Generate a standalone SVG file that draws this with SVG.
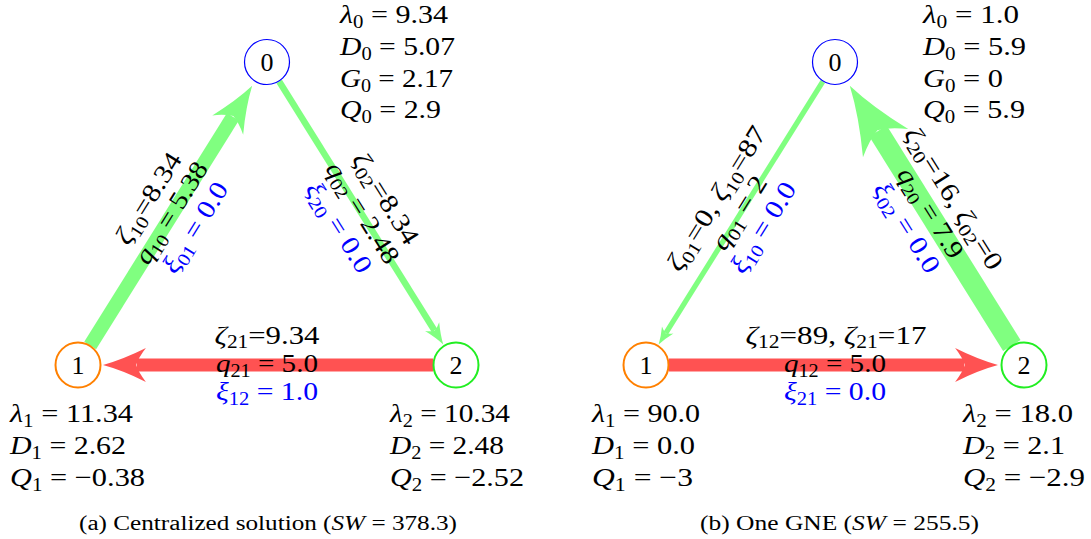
<svg xmlns="http://www.w3.org/2000/svg" width="1091" height="539" viewBox="0 0 1091 539">
<style>
.t{font-family:"Liberation Serif","Times New Roman",serif;font-size:26px;fill:#000}
.i{font-style:italic}
.s{font-size:18px}
.b{fill:#0000ff}
.cap{font-size:20px}
.g{stroke:#80ff80;fill:none}
.r{stroke:#ff5252;fill:none}
.n{fill:#fff}
</style>
<defs>
<marker id="ag" viewBox="-3.5 -1.5 3.6 3" refX="-2.6" refY="0" markerWidth="3.6" markerHeight="3" markerUnits="strokeWidth" orient="auto" overflow="visible"><path d="M0,0 Q-1.5,-0.4 -3.3,-1.3 Q-2.75,-0.6 -2.55,0 Q-2.75,0.6 -3.3,1.3 Q-1.5,0.4 0,0 Z" fill="#80ff80"/></marker>
<marker id="ar" viewBox="-3.5 -1.5 3.6 3" refX="-2.6" refY="0" markerWidth="3.6" markerHeight="3" markerUnits="strokeWidth" orient="auto" overflow="visible"><path d="M0,0 Q-1.5,-0.4 -3.3,-1.3 Q-2.75,-0.6 -2.55,0 Q-2.75,0.6 -3.3,1.3 Q-1.5,0.4 0,0 Z" fill="#ff5252"/></marker>
</defs>

<g id="connectors">
<line class="g" x1="90.2" y1="345.5" x2="232.9" y2="116.7" stroke-width="14" marker-end="url(#ag)"/>
<line class="g" x1="279.2" y1="81.5" x2="434.5" y2="330.5" stroke-width="6.4" marker-end="url(#ag)"/>
<line class="r" x1="433" y1="365" x2="136.8" y2="365" stroke-width="13" marker-end="url(#ar)"/>
<line class="g" x1="822.8" y1="81.5" x2="665.8" y2="333.1" stroke-width="5.2" marker-end="url(#ag)"/>
<line class="g" x1="1011.8" y1="345.5" x2="878" y2="131" stroke-width="20.5" marker-end="url(#ag)"/>
<line class="r" x1="669" y1="365" x2="964.2" y2="365" stroke-width="13" marker-end="url(#ar)"/>
</g>

<g id="node-a0">
<circle class="n" cx="267" cy="62" r="22.5" stroke="#0000ff" stroke-width="1.2"/>
<text class="t" x="267" y="71" text-anchor="middle">0</text>
<text class="t" x="340" y="23" textLength="108" lengthAdjust="spacingAndGlyphs"><tspan class="i">λ</tspan><tspan class="s" dy="5">0</tspan><tspan dy="-5"> = 9.34</tspan></text>
<text class="t" x="340" y="55" textLength="115" lengthAdjust="spacingAndGlyphs"><tspan class="i">D</tspan><tspan class="s" dy="5">0</tspan><tspan dy="-5"> = 5.07</tspan></text>
<text class="t" x="340" y="87" textLength="113" lengthAdjust="spacingAndGlyphs"><tspan class="i">G</tspan><tspan class="s" dy="5">0</tspan><tspan dy="-5"> = 2.17</tspan></text>
<text class="t" x="340" y="118" textLength="101" lengthAdjust="spacingAndGlyphs"><tspan class="i">Q</tspan><tspan class="s" dy="5">0</tspan><tspan dy="-5"> = 2.9</tspan></text>
</g>

<g id="node-a1">
<circle class="n" cx="78" cy="365" r="22.5" stroke="#ff8000" stroke-width="2"/>
<text class="t" x="78" y="374" text-anchor="middle">1</text>
<text class="t" x="10" y="422" textLength="123" lengthAdjust="spacingAndGlyphs"><tspan class="i">λ</tspan><tspan class="s" dy="5">1</tspan><tspan dy="-5"> = 11.34</tspan></text>
<text class="t" x="10" y="454" textLength="116" lengthAdjust="spacingAndGlyphs"><tspan class="i">D</tspan><tspan class="s" dy="5">1</tspan><tspan dy="-5"> = 2.62</tspan></text>
<text class="t" x="10" y="486" textLength="135" lengthAdjust="spacingAndGlyphs"><tspan class="i">Q</tspan><tspan class="s" dy="5">1</tspan><tspan dy="-5"> = −0.38</tspan></text>
</g>

<g id="node-a2">
<circle class="n" cx="456" cy="365" r="22.5" stroke="#22ee22" stroke-width="2"/>
<text class="t" x="456" y="374" text-anchor="middle">2</text>
<text class="t" x="390" y="422" textLength="120" lengthAdjust="spacingAndGlyphs"><tspan class="i">λ</tspan><tspan class="s" dy="5">2</tspan><tspan dy="-5"> = 10.34</tspan></text>
<text class="t" x="390" y="454" textLength="114" lengthAdjust="spacingAndGlyphs"><tspan class="i">D</tspan><tspan class="s" dy="5">2</tspan><tspan dy="-5"> = 2.48</tspan></text>
<text class="t" x="390" y="486" textLength="134" lengthAdjust="spacingAndGlyphs"><tspan class="i">Q</tspan><tspan class="s" dy="5">2</tspan><tspan dy="-5"> = −2.52</tspan></text>
</g>

<g id="labels-a">
<g transform="translate(172.5 213.5) rotate(-58.04)">
<text class="t" x="0" y="-20" text-anchor="middle" textLength="103" lengthAdjust="spacingAndGlyphs"><tspan class="i">ζ</tspan><tspan class="s" dy="5">10</tspan><tspan dy="-5">=8.34</tspan></text>
<text class="t" x="0" y="7" text-anchor="middle" textLength="115" lengthAdjust="spacingAndGlyphs"><tspan class="i">q</tspan><tspan class="s" dy="5">10</tspan><tspan dy="-5"> = 5.38</tspan></text>
<text class="t b" x="0" y="35" text-anchor="middle" textLength="102" lengthAdjust="spacingAndGlyphs"><tspan class="i">ξ</tspan><tspan class="s" dy="5">01</tspan><tspan dy="-5"> = 0.0</tspan></text>
</g>
<g transform="translate(361.5 213.5) rotate(58.04)">
<text class="t" x="0" y="-20" text-anchor="middle" textLength="103" lengthAdjust="spacingAndGlyphs"><tspan class="i">ζ</tspan><tspan class="s" dy="5">02</tspan><tspan dy="-5">=8.34</tspan></text>
<text class="t" x="0" y="7" text-anchor="middle" textLength="115" lengthAdjust="spacingAndGlyphs"><tspan class="i">q</tspan><tspan class="s" dy="5">02</tspan><tspan dy="-5"> = 2.48</tspan></text>
<text class="t b" x="0" y="35" text-anchor="middle" textLength="102" lengthAdjust="spacingAndGlyphs"><tspan class="i">ξ</tspan><tspan class="s" dy="5">20</tspan><tspan dy="-5"> = 0.0</tspan></text>
</g>
<text class="t" x="267" y="344" text-anchor="middle" textLength="105" lengthAdjust="spacingAndGlyphs"><tspan class="i">ζ</tspan><tspan class="s" dy="4">21</tspan><tspan dy="-4">=9.34</tspan></text>
<text class="t" x="267" y="372" text-anchor="middle" textLength="102" lengthAdjust="spacingAndGlyphs"><tspan class="i">q</tspan><tspan class="s" dy="5">21</tspan><tspan dy="-5"> = 5.0</tspan></text>
<text class="t b" x="267" y="400" text-anchor="middle" textLength="102" lengthAdjust="spacingAndGlyphs"><tspan class="i">ξ</tspan><tspan class="s" dy="5">12</tspan><tspan dy="-5"> = 1.0</tspan></text>
</g>

<g id="node-b0">
<circle class="n" cx="835" cy="62" r="22.5" stroke="#0000ff" stroke-width="1.2"/>
<text class="t" x="835" y="71" text-anchor="middle">0</text>
<text class="t" x="923" y="23" textLength="96" lengthAdjust="spacingAndGlyphs"><tspan class="i">λ</tspan><tspan class="s" dy="5">0</tspan><tspan dy="-5"> = 1.0</tspan></text>
<text class="t" x="923" y="55" textLength="103" lengthAdjust="spacingAndGlyphs"><tspan class="i">D</tspan><tspan class="s" dy="5">0</tspan><tspan dy="-5"> = 5.9</tspan></text>
<text class="t" x="923" y="87" textLength="80" lengthAdjust="spacingAndGlyphs"><tspan class="i">G</tspan><tspan class="s" dy="5">0</tspan><tspan dy="-5"> = 0</tspan></text>
<text class="t" x="923" y="118" textLength="102" lengthAdjust="spacingAndGlyphs"><tspan class="i">Q</tspan><tspan class="s" dy="5">0</tspan><tspan dy="-5"> = 5.9</tspan></text>
</g>

<g id="node-b1">
<circle class="n" cx="646" cy="365" r="22.5" stroke="#ff8000" stroke-width="2"/>
<text class="t" x="646" y="374" text-anchor="middle">1</text>
<text class="t" x="592" y="422" textLength="108" lengthAdjust="spacingAndGlyphs"><tspan class="i">λ</tspan><tspan class="s" dy="5">1</tspan><tspan dy="-5"> = 90.0</tspan></text>
<text class="t" x="592" y="454" textLength="103" lengthAdjust="spacingAndGlyphs"><tspan class="i">D</tspan><tspan class="s" dy="5">1</tspan><tspan dy="-5"> = 0.0</tspan></text>
<text class="t" x="592" y="486" textLength="101" lengthAdjust="spacingAndGlyphs"><tspan class="i">Q</tspan><tspan class="s" dy="5">1</tspan><tspan dy="-5"> = −3</tspan></text>
</g>

<g id="node-b2">
<circle class="n" cx="1024" cy="365" r="22.5" stroke="#22ee22" stroke-width="2"/>
<text class="t" x="1024" y="374" text-anchor="middle">2</text>
<text class="t" x="963" y="422" textLength="110" lengthAdjust="spacingAndGlyphs"><tspan class="i">λ</tspan><tspan class="s" dy="5">2</tspan><tspan dy="-5"> = 18.0</tspan></text>
<text class="t" x="963" y="454" textLength="102" lengthAdjust="spacingAndGlyphs"><tspan class="i">D</tspan><tspan class="s" dy="5">2</tspan><tspan dy="-5"> = 2.1</tspan></text>
<text class="t" x="963" y="486" textLength="122" lengthAdjust="spacingAndGlyphs"><tspan class="i">Q</tspan><tspan class="s" dy="5">2</tspan><tspan dy="-5"> = −2.9</tspan></text>
</g>

<g id="labels-b">
<g transform="translate(740.5 213.5) rotate(-58.04)">
<text class="t" x="0" y="-20" text-anchor="middle" textLength="165" lengthAdjust="spacingAndGlyphs"><tspan class="i">ζ</tspan><tspan class="s" dy="5">01</tspan><tspan dy="-5">=0, </tspan><tspan class="i">ζ</tspan><tspan class="s" dy="5">10</tspan><tspan dy="-5">=87</tspan></text>
<text class="t" x="0" y="7" text-anchor="middle" textLength="82" lengthAdjust="spacingAndGlyphs"><tspan class="i">q</tspan><tspan class="s" dy="5">01</tspan><tspan dy="-5"> = 2</tspan></text>
<text class="t b" x="0" y="35" text-anchor="middle" textLength="102" lengthAdjust="spacingAndGlyphs"><tspan class="i">ξ</tspan><tspan class="s" dy="5">10</tspan><tspan dy="-5"> = 0.0</tspan></text>
</g>
<g transform="translate(929.5 213.5) rotate(58.04)">
<text class="t" x="0" y="-20" text-anchor="middle" textLength="163" lengthAdjust="spacingAndGlyphs"><tspan class="i">ζ</tspan><tspan class="s" dy="5">20</tspan><tspan dy="-5">=16, </tspan><tspan class="i">ζ</tspan><tspan class="s" dy="5">02</tspan><tspan dy="-5">=0</tspan></text>
<text class="t" x="0" y="7" text-anchor="middle" textLength="102" lengthAdjust="spacingAndGlyphs"><tspan class="i">q</tspan><tspan class="s" dy="5">20</tspan><tspan dy="-5"> = 7.9</tspan></text>
<text class="t b" x="0" y="35" text-anchor="middle" textLength="102" lengthAdjust="spacingAndGlyphs"><tspan class="i">ξ</tspan><tspan class="s" dy="5">02</tspan><tspan dy="-5"> = 0.0</tspan></text>
</g>
<text class="t" x="836" y="344" text-anchor="middle" textLength="181" lengthAdjust="spacingAndGlyphs"><tspan class="i">ζ</tspan><tspan class="s" dy="4">12</tspan><tspan dy="-4">=89, </tspan><tspan class="i">ζ</tspan><tspan class="s" dy="4">21</tspan><tspan dy="-4">=17</tspan></text>
<text class="t" x="835" y="372" text-anchor="middle" textLength="102" lengthAdjust="spacingAndGlyphs"><tspan class="i">q</tspan><tspan class="s" dy="5">12</tspan><tspan dy="-5"> = 5.0</tspan></text>
<text class="t b" x="835" y="400" text-anchor="middle" textLength="102" lengthAdjust="spacingAndGlyphs"><tspan class="i">ξ</tspan><tspan class="s" dy="5">21</tspan><tspan dy="-5"> = 0.0</tspan></text>
</g>

<g id="captions">
<text class="t cap" x="268" y="530" text-anchor="middle" textLength="378" lengthAdjust="spacingAndGlyphs">(a) Centralized solution (<tspan class="i">SW</tspan> = 378.3)</text>
<text class="t cap" x="839.5" y="530" text-anchor="middle" textLength="279" lengthAdjust="spacingAndGlyphs">(b) One GNE (<tspan class="i">SW</tspan> = 255.5)</text>
</g>
</svg>
